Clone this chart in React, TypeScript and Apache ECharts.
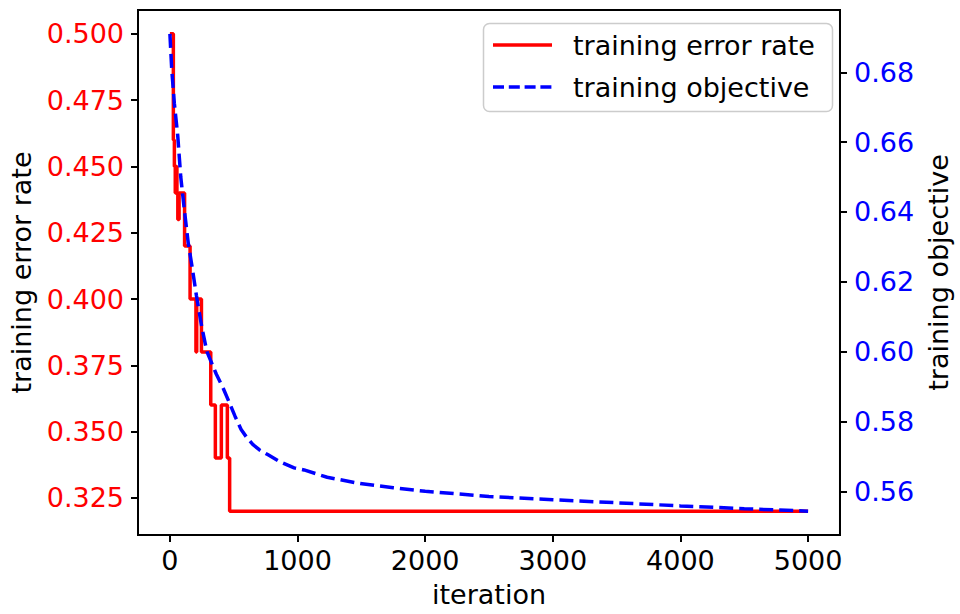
import React, { useEffect, useRef } from "react";
import * as echarts from "echarts";

const redIter = [0, 27, 35, 42, 48, 55, 62, 72, 115, 158, 204, 210, 247, 320, 356, 403, 450, 468, 5000];
const redVals = [0.5, 0.46, 0.45, 0.44, 0.45, 0.44, 0.43, 0.44, 0.42, 0.4, 0.38, 0.4, 0.38, 0.36, 0.34, 0.36, 0.34, 0.32, 0.32];

const blueIter = [0, 14, 35, 61, 85, 115, 144, 175, 208, 250, 290, 364, 420, 468, 510, 558, 600, 649, 700, 766, 860, 973, 1051, 1232, 1491, 1750, 2000, 2500, 3000, 3500, 4000, 4500, 5000];
const blueVals = [0.691, 0.681, 0.671, 0.662, 0.65, 0.64, 0.631, 0.624, 0.616, 0.607, 0.6, 0.5935, 0.5893, 0.5852, 0.5815, 0.5777, 0.5755, 0.5734, 0.5719, 0.5705, 0.5685, 0.5667, 0.5661, 0.564, 0.5622, 0.561, 0.56, 0.5585, 0.5576, 0.5567, 0.5558, 0.555, 0.5543];

const xTicks = [0, 1000, 2000, 3000, 4000, 5000];
const leftTicks = [0.325, 0.35, 0.375, 0.4, 0.425, 0.45, 0.475, 0.5];
const rightTicks = [0.56, 0.58, 0.6, 0.62, 0.64, 0.66, 0.68];
const legendNames = ["training error rate", "training objective"];

const FONT = "DejaVu Sans";
const FS = 27;

export default function App() {
  const ref = useRef<HTMLDivElement>(null);
  useEffect(() => {
    if (!ref.current) return;
    const chart = echarts.init(ref.current, null, { renderer: "svg" });
    const redData = redIter.map((x, i) => [x, redVals[i]]);
    const blueData = blueIter.map((x, i) => [x, blueVals[i]]);
    chart.setOption({
      animation: false,
      backgroundColor: "#ffffff",
      textStyle: { fontFamily: FONT },
      grid: {
        left: 138,
        right: 114,
        top: 10,
        bottom: 79,
        show: true,
        borderColor: "#000",
        borderWidth: 2,
        backgroundColor: "transparent",
      },
      graphic: [
        {
          type: "group",
          z: 100,
          children: [
            {
              type: "rect",
              shape: { x: 483.5, y: 23.5, width: 349, height: 88, r: 6 },
              style: { fill: "rgba(255,255,255,0.8)", stroke: "#cccccc", lineWidth: 1.5 },
            },
            {
              type: "line",
              shape: { x1: 493, y1: 45, x2: 552, y2: 45 },
              style: { stroke: "#ff0000", lineWidth: 3.5 },
            },
            {
              type: "line",
              shape: { x1: 493, y1: 87, x2: 552, y2: 87 },
              style: { stroke: "#0000ff", lineWidth: 3.5, lineDash: [11, 4.8] },
            },
            {
              type: "text",
              x: 573,
              y: 45,
              style: {
                text: legendNames[0],
                font: `${FS}px ${FONT}`,
                fill: "#000",
                verticalAlign: "middle",
                align: "left",
              },
            },
            {
              type: "text",
              x: 573,
              y: 87,
              style: {
                text: legendNames[1],
                font: `${FS}px ${FONT}`,
                fill: "#000",
                verticalAlign: "middle",
                align: "left",
              },
            },
          ],
        },
      ],
      xAxis: {
        type: "value",
        min: -250,
        max: 5250,
        name: "iteration",
        nameLocation: "middle",
        nameGap: 46,
        nameTextStyle: { fontFamily: FONT, fontSize: FS, color: "#000" },
        axisLine: { show: true, onZero: false, lineStyle: { color: "#000", width: 2 } },
        axisTick: { show: true, inside: false, length: 7, lineStyle: { color: "#000", width: 2 }, customValues: xTicks },
        axisLabel: {
          show: true,
          margin: 12,
          fontFamily: FONT,
          fontSize: FS,
          color: "#000",
          customValues: xTicks,
          formatter: (v: number) => String(Math.round(v)),
        },
        splitLine: { show: false },
      },
      yAxis: [
        {
          type: "value",
          position: "left",
          min: 0.311,
          max: 0.509,
          name: "training error rate",
          nameLocation: "middle",
          nameGap: 103,
          nameRotate: 90,
          nameTextStyle: { fontFamily: FONT, fontSize: FS, color: "#000" },
          axisLine: { show: true, onZero: false, lineStyle: { color: "#000", width: 2 } },
          axisTick: { show: true, length: 7, lineStyle: { color: "#000", width: 2 }, customValues: leftTicks },
          axisLabel: {
            margin: 14,
            fontFamily: FONT,
            fontSize: FS,
            color: "#ff0000",
            customValues: leftTicks,
            formatter: (v: number) => v.toFixed(3),
          },
          splitLine: { show: false },
        },
        {
          type: "value",
          position: "right",
          min: 0.54747,
          max: 0.69784,
          name: "training objective",
          nameLocation: "middle",
          nameGap: 84,
          nameRotate: 90,
          nameTextStyle: { fontFamily: FONT, fontSize: FS, color: "#000" },
          axisLine: { show: true, onZero: false, lineStyle: { color: "#000", width: 2 } },
          axisTick: { show: true, length: 7, lineStyle: { color: "#000", width: 2 }, customValues: rightTicks },
          axisLabel: {
            margin: 14,
            fontFamily: FONT,
            fontSize: FS,
            color: "#0000ff",
            customValues: rightTicks,
            formatter: (v: number) => v.toFixed(2),
          },
          splitLine: { show: false },
        },
      ],
      series: [
        {
          name: legendNames[0],
          type: "line",
          yAxisIndex: 0,
          step: "end",
          data: redData,
          showSymbol: false,
          symbol: "none",
          color: "#ff0000",
          lineStyle: { color: "#ff0000", width: 3.5 },
          z: 2,
        },
        {
          name: legendNames[1],
          type: "line",
          yAxisIndex: 1,
          smooth: false,
          data: blueData,
          showSymbol: false,
          symbol: "none",
          color: "#0000ff",
          lineStyle: { color: "#0000ff", width: 3.5, type: [14, 6] },
          z: 3,
        },
      ],
    });
    return () => chart.dispose();
  }, []);
  return (
    <div
      ref={ref}
      style={{ position: "absolute", left: 0, top: 0, width: 960, height: 614 }}
    />
  );
}
